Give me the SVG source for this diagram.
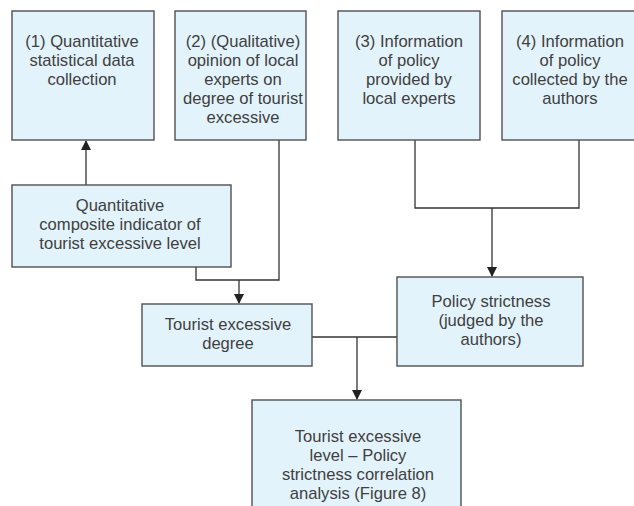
<svg xmlns="http://www.w3.org/2000/svg" width="634" height="506" viewBox="0 0 634 506">
<style>
.box{fill:#e3f3fb;stroke:#505050;stroke-width:1.4}
.t{font-family:"Liberation Sans",Arial,sans-serif;font-size:16.6px;fill:#404040;text-anchor:middle}
.c{fill:none;stroke:#333;stroke-width:1.3}
</style>
<defs>
<marker id="ah" markerWidth="10" markerHeight="10" refX="9" refY="5" orient="auto" markerUnits="userSpaceOnUse">
<path d="M0,0 L10,5 L0,10 Z" fill="#222"/>
</marker>
</defs>
<rect width="634" height="506" fill="#fff"/>
<g id="connectors">
<line class="c" x1="86" y1="185" x2="86" y2="141" marker-end="url(#ah)"/>
<polyline class="c" points="279,140 279,280 196,280 196,267"/>
<line class="c" x1="239" y1="280" x2="239" y2="303" marker-end="url(#ah)"/>
<polyline class="c" points="415,140 415,208 579,208 579,140"/>
<line class="c" x1="492" y1="208" x2="492" y2="276" marker-end="url(#ah)"/>
<line class="c" x1="312" y1="337" x2="397" y2="337"/>
<line class="c" x1="357" y1="337" x2="357" y2="399" marker-end="url(#ah)"/>
</g>
<g id="n1">
<rect class="box" x="12" y="11" width="142" height="129"/>
<text class="t" x="82" y="47">(1) Quantitative</text>
<text class="t" x="82" y="66">statistical data</text>
<text class="t" x="82" y="85">collection</text>
</g>
<g id="n2">
<rect class="box" x="175" y="11" width="131" height="129"/>
<text class="t" x="243" y="47">(2) (Qualitative)</text>
<text class="t" x="243" y="66">opinion of local</text>
<text class="t" x="243" y="85">experts on</text>
<text class="t" x="243" y="104">degree of tourist</text>
<text class="t" x="243" y="123">excessive</text>
</g>
<g id="n3">
<rect class="box" x="338" y="11" width="142" height="129"/>
<text class="t" x="409" y="47">(3) Information</text>
<text class="t" x="409" y="66">of policy</text>
<text class="t" x="409" y="85">provided by</text>
<text class="t" x="409" y="104">local experts</text>
</g>
<g id="n4">
<rect class="box" x="502" y="11" width="142" height="129"/>
<text class="t" x="570" y="47">(4) Information</text>
<text class="t" x="570" y="66">of policy</text>
<text class="t" x="570" y="85">collected by the</text>
<text class="t" x="570" y="104">authors</text>
</g>
<g id="n5">
<rect class="box" x="12" y="185" width="219" height="82"/>
<text class="t" x="120" y="211">Quantitative</text>
<text class="t" x="120" y="230">composite indicator of</text>
<text class="t" x="120" y="249">tourist excessive level</text>
</g>
<g id="n6">
<rect class="box" x="142" y="304" width="170" height="62"/>
<text class="t" x="228" y="330">Tourist excessive</text>
<text class="t" x="228" y="349">degree</text>
</g>
<g id="n7">
<rect class="box" x="397" y="277" width="186" height="89"/>
<text class="t" x="491" y="307">Policy strictness</text>
<text class="t" x="491" y="326">(judged by the</text>
<text class="t" x="491" y="345">authors)</text>
</g>
<g id="n8">
<rect class="box" x="252" y="400" width="209" height="120"/>
<text class="t" x="358" y="442">Tourist excessive</text>
<text class="t" x="358" y="461">level – Policy</text>
<text class="t" x="358" y="480">strictness correlation</text>
<text class="t" x="358" y="499">analysis (Figure 8)</text>
</g>
</svg>
